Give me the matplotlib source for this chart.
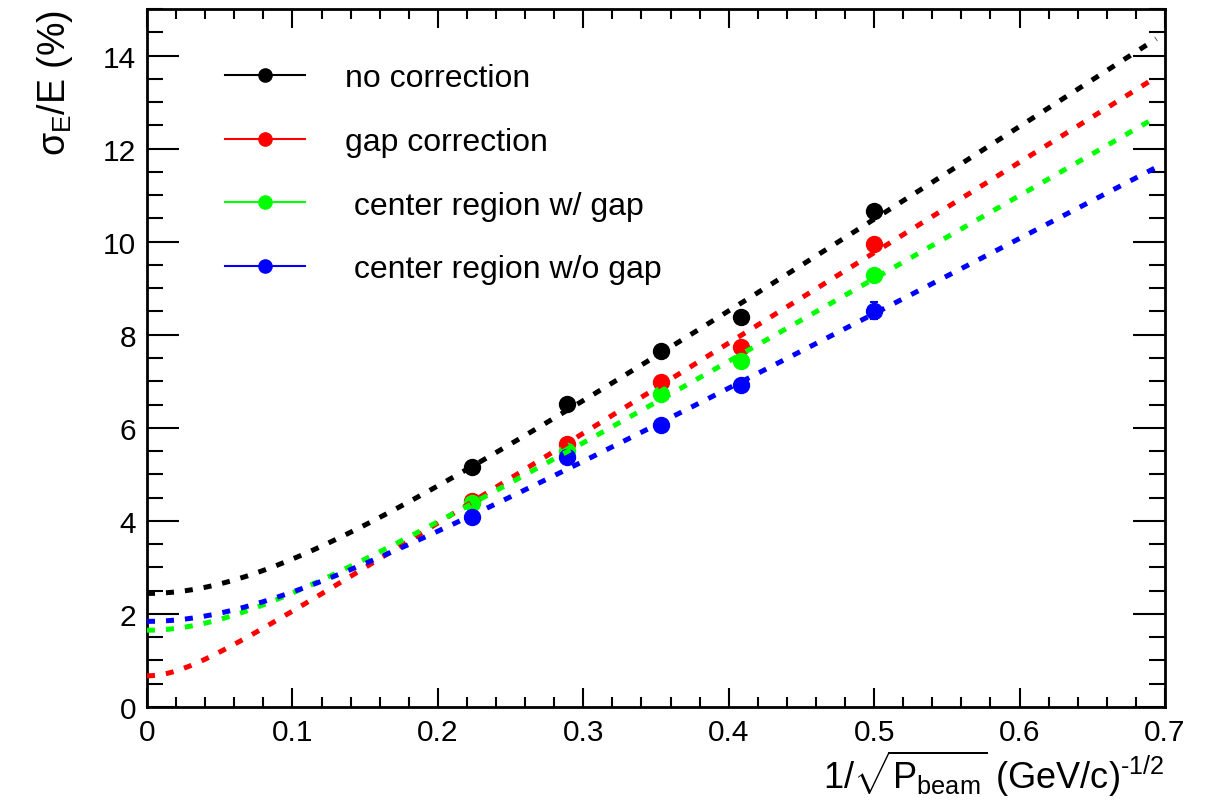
import numpy as np
import matplotlib
matplotlib.use("Agg")
import matplotlib.pyplot as plt
from matplotlib.lines import Line2D
from matplotlib.ticker import MultipleLocator

plt.rcParams['font.family'] = ['Liberation Sans', 'DejaVu Sans']
plt.rcParams['mathtext.fontset'] = 'custom'
plt.rcParams['mathtext.rm'] = 'Liberation Sans'
plt.rcParams['mathtext.it'] = 'Liberation Sans'
plt.rcParams['mathtext.bf'] = 'Liberation Sans:bold'

# ---- data ----
x_pts = [0.2236, 0.2887, 0.3536, 0.4082, 0.5]
labels = ["no correction", "gap correction", " center region w/ gap", " center region w/o gap"]
colors = ["#000000", "#ff0000", "#00ff00", "#0000ff"]
y_nocorr = [5.16, 6.51, 7.66, 8.39, 10.66]
y_gapcorr = [4.43, 5.65, 6.99, 7.74, 9.95]
y_center_gap = [4.38, 5.51, 6.73, 7.44, 9.28]
y_center_nogap = [4.09, 5.37, 6.07, 6.91, 8.52]
e_nocorr = [0.05, 0.05, 0.05, 0.06, 0.08]
e_gapcorr = [0.05, 0.05, 0.05, 0.06, 0.08]
e_center_gap = [0.05, 0.05, 0.05, 0.06, 0.08]
e_center_nogap = [0.05, 0.06, 0.06, 0.07, 0.19]
# fit: sigma/E = a/sqrt(P) (+) b
fit_a = [20.39, 19.48, 18.11, 16.50]
fit_b = [2.44, 0.67, 1.65, 1.84]
fit_range = [0.0, 0.694]

series_y = [y_nocorr, y_gapcorr, y_center_gap, y_center_nogap]
series_e = [e_nocorr, e_gapcorr, e_center_gap, e_center_nogap]

fig = plt.figure(figsize=(12.11, 8.03), dpi=100)
ax = fig.add_axes([147/1211, 1 - 708/803, (1165-147)/1211, (708-10)/803])

xf = np.linspace(fit_range[0], fit_range[1], 400)
for y, e, a, b, c in zip(series_y, series_e, fit_a, fit_b, colors):
    ax.errorbar(x_pts, y, yerr=e, fmt='o', color=c, ms=11.5, elinewidth=1.5,
                capsize=3, capthick=1.5, zorder=3)
    ax.plot(xf, np.sqrt((a * xf) ** 2 + b ** 2), color=c, lw=3.6,
            linestyle=(0, (1.6, 2.2)), dash_capstyle='butt', zorder=4)

ax.set_xlim(0, 0.7)
ax.set_ylim(0, 15)
ax.xaxis.set_major_locator(MultipleLocator(0.1))
ax.xaxis.set_minor_locator(MultipleLocator(0.02))
ax.yaxis.set_major_locator(MultipleLocator(2))
ax.yaxis.set_minor_locator(MultipleLocator(0.5))
ax.set_xticks(np.arange(0, 0.71, 0.1))
ax.set_xticklabels(["0", "0.1", "0.2", "0.3", "0.4", "0.5", "0.6", "0.7"])
ax.tick_params(axis='both', which='both', direction='in', top=True, right=True,
               labelsize=21.5, width=1.5)
ax.tick_params(axis='x', which='major', length=14, pad=8)
ax.tick_params(axis='x', which='minor', length=7)
ax.tick_params(axis='y', which='major', length=23, pad=8)
ax.tick_params(axis='y', which='minor', length=11.5)
for s in ax.spines.values():
    s.set_linewidth(2)

ax.set_xlabel(r'$1/\sqrt{\mathrm{P}_{\mathrm{beam}}}$ (GeV/c)$^{\text{-1/2}}$',
              fontsize=26, loc='right', labelpad=1)
ax.set_ylabel(r'$\sigma_{\mathrm{E}}$/E (%)', fontsize=27, loc='top', labelpad=20)

handles = [Line2D([0], [0], color=c, lw=1.5, marker='o', ms=9.5) for c in colors]
ax.legend(handles, labels, loc='upper left', bbox_to_anchor=(0.077, 0.922),
          frameon=False, fontsize=23, handlelength=2.5, handletextpad=1.25,
          labelspacing=1.05, borderpad=0, borderaxespad=0)

fig.savefig("out.png", dpi=100)
